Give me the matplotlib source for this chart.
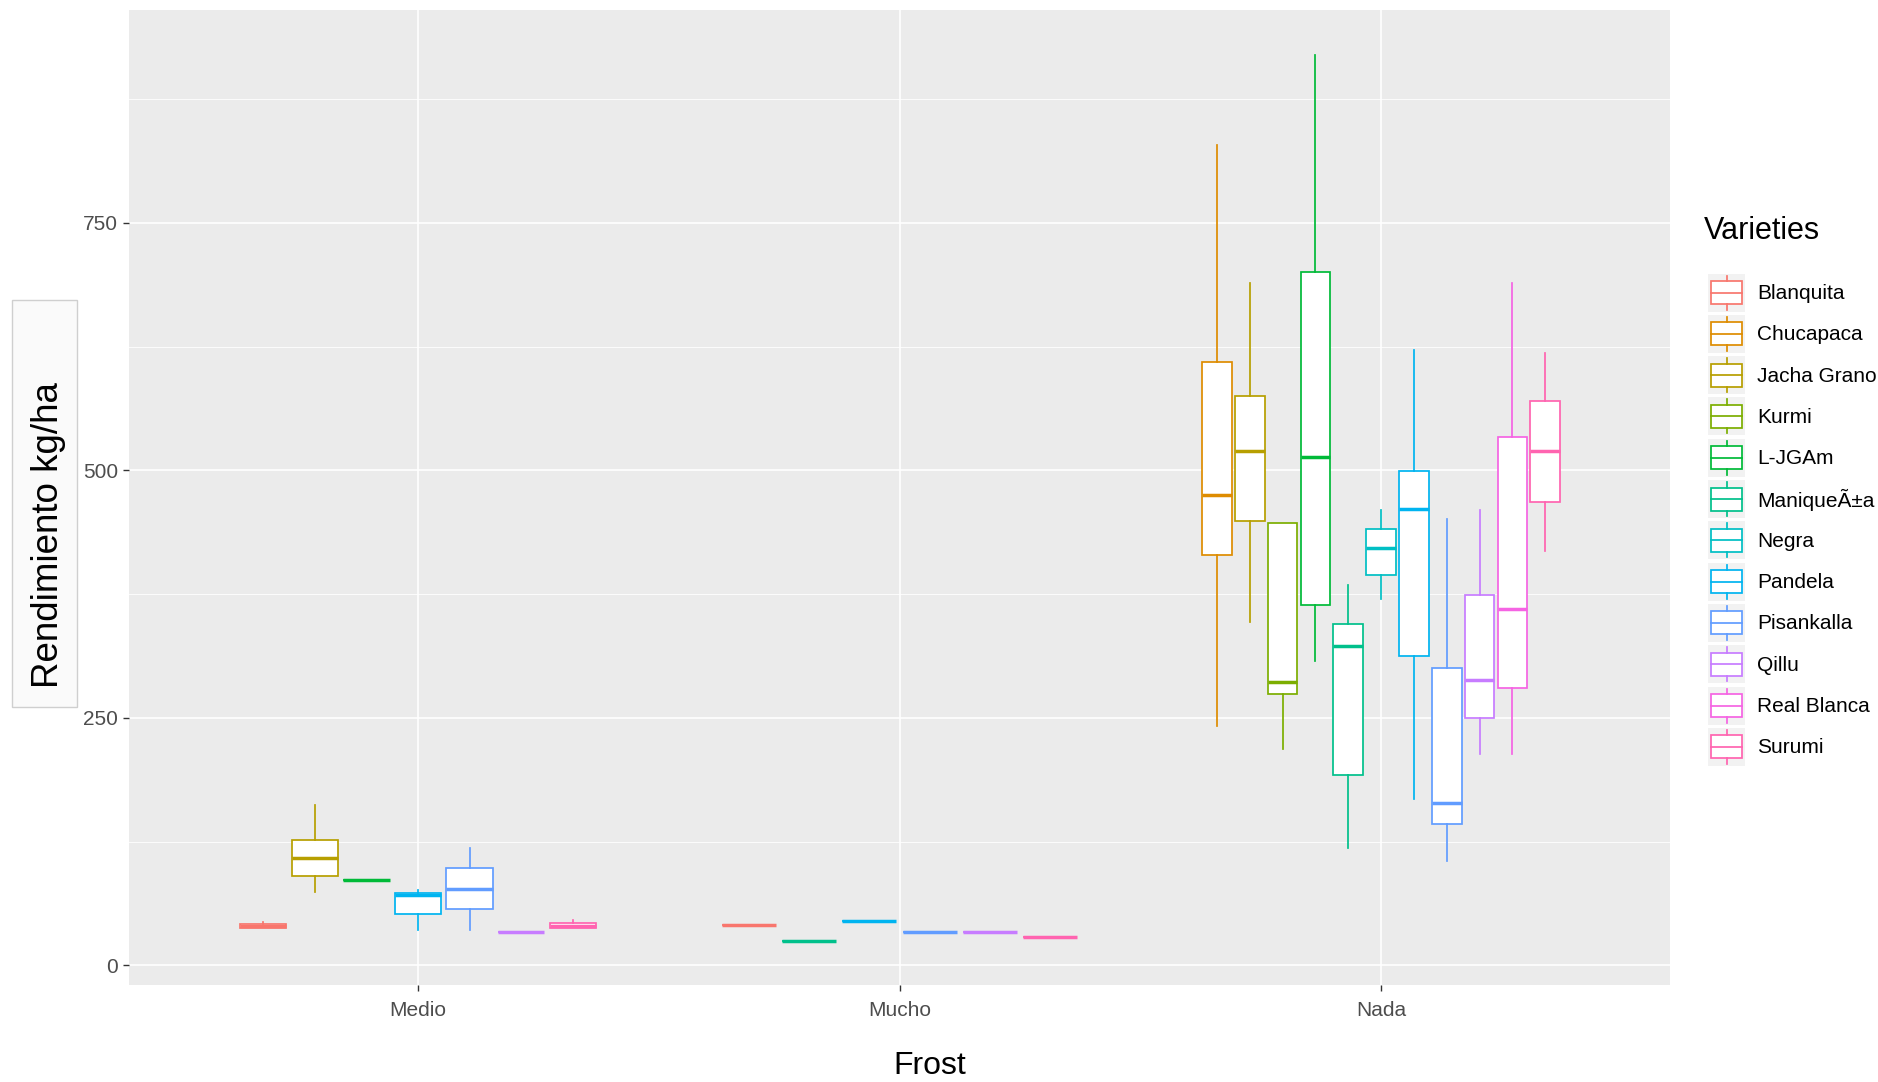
import matplotlib
matplotlib.use("Agg")
import matplotlib.pyplot as plt
from matplotlib.patches import Rectangle

plt.rcParams['font.family'] = ['Liberation Sans', 'DejaVu Sans']

# ---------------- data ----------------
varieties = ["Blanquita", "Chucapaca", "Jacha Grano", "Kurmi", "L-JGAm", "ManiqueÃ±a",
             "Negra", "Pandela", "Pisankalla", "Qillu", "Real Blanca", "Surumi"]
colors = ["#F8766D", "#DE8C00", "#B79F00", "#7CAE00", "#00BA38", "#00C08B",
          "#00BFC4", "#00B4F0", "#619CFF", "#C77CFF", "#F564E3", "#FF64B0"]
frost_levels = ["Medio", "Mucho", "Nada"]

medio_vars = ["Blanquita", "Jacha Grano", "L-JGAm", "Pandela", "Pisankalla", "Qillu", "Surumi"]
medio_lo   = [38, 74, 86, 36, 36, 34, 38]
medio_q1   = [38, 90, 86, 52, 57, 34, 38]
medio_med  = [40, 108, 86, 71, 77, 34, 40]
medio_q3   = [42, 127, 86, 73, 98, 34, 43]
medio_hi   = [44, 162, 86, 76, 118, 34, 46]

mucho_vars = ["Blanquita", "ManiqueÃ±a", "Pandela", "Pisankalla", "Qillu", "Surumi"]
mucho_lo   = [41, 25, 45, 34, 34, 29]
mucho_q1   = [41, 25, 45, 34, 34, 29]
mucho_med  = [41, 25, 45, 34, 34, 29]
mucho_q3   = [41, 25, 45, 34, 34, 29]
mucho_hi   = [41, 25, 45, 34, 34, 29]

nada_vars = ["Chucapaca", "Jacha Grano", "Kurmi", "L-JGAm", "ManiqueÃ±a", "Negra",
             "Pandela", "Pisankalla", "Qillu", "Real Blanca", "Surumi"]
nada_lo   = [242, 347, 219, 307, 118, 370, 168, 105, 213, 213, 419]
nada_q1   = [414, 449, 274, 364, 192, 394, 312, 143, 250, 280, 468]
nada_med  = [475, 520, 286, 513, 323, 422, 461, 164, 288, 360, 520]
nada_q3   = [609, 575, 447, 700, 345, 441, 499, 300, 374, 534, 570]
nada_hi   = [829, 689, 447, 920, 384, 460, 622, 451, 460, 689, 619]

groups = [
    (medio_vars, medio_lo, medio_q1, medio_med, medio_q3, medio_hi),
    (mucho_vars, mucho_lo, mucho_q1, mucho_med, mucho_q3, mucho_hi),
    (nada_vars, nada_lo, nada_q1, nada_med, nada_q3, nada_hi),
]

# ---------------- figure ----------------
W, H = 1878, 1082
fig = plt.figure(figsize=(W / 100, H / 100), dpi=100)
fig.patch.set_facecolor("white")

pl, pr, pt, pb = 129, 1670, 10, 985
ax = fig.add_axes([pl / W, (H - pb) / H, (pr - pl) / W, (pb - pt) / H])
ax.set_facecolor("#EBEBEB")
for s in ax.spines.values():
    s.set_visible(False)

ax.set_xlim(0.4, 3.6)
ax.set_ylim(-19.9, 965)
ax.set_yticks([0, 250, 500, 750])
ax.set_yticks([125, 375, 625, 875], minor=True)
ax.set_xticks([1, 2, 3])
ax.set_xticklabels(frost_levels)
ax.grid(True, which="major", color="white", linewidth=1.2)
ax.grid(True, which="minor", axis="y", color="white", linewidth=0.6)
ax.set_axisbelow(True)
ax.tick_params(axis="both", which="major", colors="#333333", length=4, width=1.0,
               labelsize=15, labelcolor="#4D4D4D", pad=4)
ax.tick_params(axis="x", which="major", pad=7.5)
ax.tick_params(axis="both", which="minor", length=0)

dodge = 0.75
lw = 1.25
for gi, (vars_, lo, q1, med, q3, hi) in enumerate(groups):
    n = len(vars_)
    step = dodge / n
    for i, v in enumerate(vars_):
        c = colors[varieties.index(v)]
        pos = (gi + 1) - dodge / 2 + (i + 0.5) * step
        st = [dict(whislo=lo[i], q1=q1[i], med=med[i], q3=q3[i], whishi=hi[i], label=v)]
        ax.bxp(st, positions=[pos], widths=step * 0.9, showfliers=False, showcaps=False,
               patch_artist=True,
               boxprops=dict(facecolor="white", edgecolor=c, linewidth=lw),
               whiskerprops=dict(color=c, linewidth=lw),
               medianprops=dict(color=c, linewidth=2.5, solid_capstyle="butt"),
               manage_ticks=False)

# ---------------- annotations / legend (figure-pixel overlay) ----------------
ov = fig.add_axes([0, 0, 1, 1], facecolor="none")
ov.set_xlim(0, W)
ov.set_ylim(H, 0)
ov.axis("off")

# y-axis title in a light box
ov.add_patch(Rectangle((12, 300), 65, 407, facecolor="#FAFAFA", edgecolor="#CFCFCF", linewidth=1.0))
ov.text(49, 535, "Rendimiento kg/ha", rotation=90, ha="center", va="center",
        fontsize=26.5, color="black")

# x-axis title
ov.text(930, 1066, "Frost", ha="center", va="center", fontsize=23, color="black")

# legend
ov.text(1704, 231, "Varieties", ha="left", va="center", fontsize=22, color="black")
y0, dy = 292.5, 41.3
for i, (v, c) in enumerate(zip(varieties, colors)):
    yc = y0 + i * dy
    ov.add_patch(Rectangle((1708, yc - 19), 37, 38, facecolor="#F2F2F2", edgecolor="none"))
    ov.add_patch(Rectangle((1711, yc - 11.5), 31, 23, facecolor="white", edgecolor=c, linewidth=lw))
    ov.plot([1711, 1742], [yc, yc], color=c, linewidth=lw)
    ov.plot([1726.5, 1726.5], [yc - 17, yc - 11.5], color=c, linewidth=lw)
    ov.plot([1726.5, 1726.5], [yc + 11.5, yc + 17], color=c, linewidth=lw)
    ov.text(1757, yc + 1, v, ha="left", va="center", fontsize=15, color="black")

fig.savefig("out.png", dpi=100)
